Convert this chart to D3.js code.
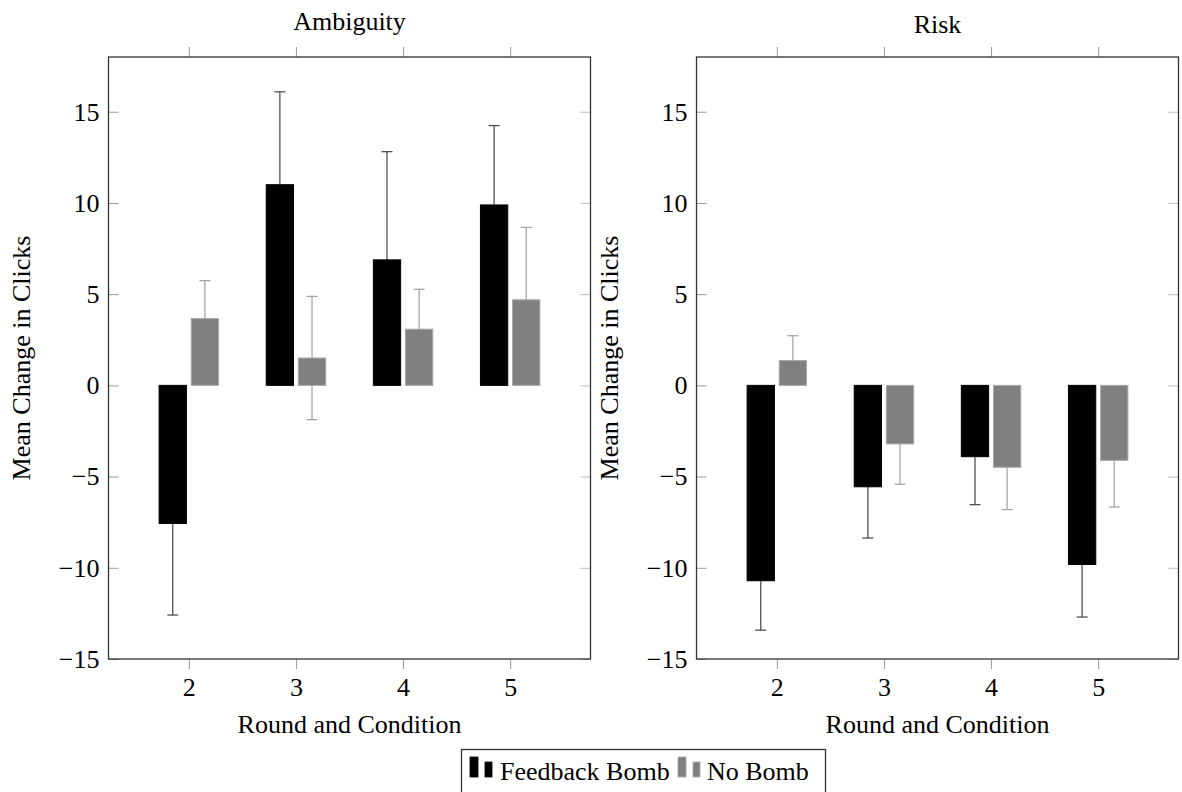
<!DOCTYPE html>
<html>
<head>
<meta charset="utf-8">
<script src="https://cdn.jsdelivr.net/npm/d3@7/dist/d3.min.js"></script>
<style>
  body { margin: 0; background: #fff; }
  text { font-family: "Liberation Serif", "DejaVu Serif", serif; }
</style>
</head>
<body>
<div id="chart"></div>
<script>
// Chart data
var rounds = ["2", "3", "4", "5"];
var seriesNames = ["Feedback Bomb", "No Bomb"];

var ambFeedback = [-7.57, 11.0, 6.88, 9.89];
var ambFeedbackErr = [5.02, 5.09, 5.93, 4.35];
var ambNoBomb = [3.66, 1.50, 3.08, 4.69];
var ambNoBombErr = [2.08, 3.38, 2.19, 3.97];

var riskFeedback = [-10.71, -5.56, -3.91, -9.82];
var riskFeedbackErr = [2.71, 2.81, 2.63, 2.88];
var riskNoBomb = [1.36, -3.21, -4.49, -4.11];
var riskNoBombErr = [1.36, 2.21, 2.32, 2.56];

var yTicks = [-15, -10, -5, 0, 5, 10, 15];

// SVG area
var svgWidth = 1182;
var svgHeight = 792;
var fontSize = "26px";

var svg = d3.select("#chart")
  .append("svg")
  .attr("width", svgWidth)
  .attr("height", svgHeight);

var panels = [
  { title: "Ambiguity", left: 108.5, titleY: 30,
    series: [
      { vals: ambFeedback, errs: ambFeedbackErr, fill: "#000", stroke: "#000", err: "#444", shift: -1 },
      { vals: ambNoBomb, errs: ambNoBombErr, fill: "#808080", stroke: "#a8a8a8", err: "#a0a0a0", shift: 1 }
    ] },
  { title: "Risk", left: 696.5, titleY: 33,
    series: [
      { vals: riskFeedback, errs: riskFeedbackErr, fill: "#000", stroke: "#000", err: "#444", shift: -1 },
      { vals: riskNoBomb, errs: riskNoBombErr, fill: "#808080", stroke: "#a8a8a8", err: "#a0a0a0", shift: 1 }
    ] }
];

var plotW = 482;
var plotTop = 57, plotBottom = 659;

panels.forEach(function(p) {
  var g = svg.append("g");

  var x = d3.scalePoint()
    .domain(rounds)
    .range([p.left, p.left + plotW])
    .padding(0.75);

  var y = d3.scaleLinear()
    .domain([-15, 18])
    .range([plotBottom, plotTop]);

  var step = x.step();
  var barW = step * 0.255;
  var off = step * 0.15;

  // error bars first, bars on top of them
  p.series.forEach(function(s) {
    var eg = g.append("g");
    rounds.forEach(function(r, i) {
      var cx = x(r) + s.shift * off;
      var hi = y(s.vals[i] + s.errs[i]);
      var lo = y(s.vals[i] - s.errs[i]);
      eg.append("line")
        .attr("x1", cx).attr("x2", cx)
        .attr("y1", hi).attr("y2", lo)
        .attr("stroke", s.err).attr("stroke-width", 1.2);
      [hi, lo].forEach(function(yy) {
        eg.append("line")
          .attr("x1", cx - 5.5).attr("x2", cx + 5.5)
          .attr("y1", yy).attr("y2", yy)
          .attr("stroke", s.err).attr("stroke-width", 1.2);
      });
    });
  });

  p.series.forEach(function(s) {
    g.selectAll(null)
      .data(s.vals)
      .enter()
      .append("rect")
      .attr("x", (d, i) => x(rounds[i]) + s.shift * off - barW / 2)
      .attr("y", d => y(Math.max(0, d)))
      .attr("width", barW)
      .attr("height", d => Math.abs(y(d) - y(0)))
      .attr("fill", s.fill)
      .attr("stroke", s.stroke)
      .attr("stroke-width", 1);
  });

  // axes
  var leftAxis = d3.axisLeft(y).tickValues(yTicks).tickSize(-10).tickPadding(9);
  var rightAxis = d3.axisRight(y).tickValues(yTicks).tickSize(-10).tickFormat("");
  var bottomAxis = d3.axisBottom(x).tickSize(10).tickPadding(9);
  var topAxis = d3.axisTop(x).tickSize(10).tickFormat("");

  var la = g.append("g").attr("transform", "translate(" + p.left + ",0)").call(leftAxis);
  var ra = g.append("g").attr("transform", "translate(" + (p.left + plotW) + ",0)").call(rightAxis);
  var ba = g.append("g").attr("transform", "translate(0," + plotBottom + ")").call(bottomAxis);
  var ta = g.append("g").attr("transform", "translate(0," + plotTop + ")").call(topAxis);

  [la, ra, ba, ta].forEach(function(a) {
    a.select(".domain").remove();
    a.selectAll("line").attr("stroke", "#999");
    a.selectAll("text")
      .attr("fill", "#000")
      .style("font-family", "'Liberation Serif', serif")
      .style("font-size", fontSize);
  });
  ra.selectAll("line").attr("stroke", "#bbb");

  // frame
  g.append("rect")
    .attr("x", p.left).attr("y", plotTop)
    .attr("width", plotW).attr("height", plotBottom - plotTop)
    .attr("fill", "none")
    .attr("stroke", "#333")
    .attr("stroke-width", 1.3);

  // titles and labels
  g.append("text")
    .attr("x", p.left + plotW / 2).attr("y", p.titleY)
    .attr("text-anchor", "middle")
    .style("font-size", fontSize)
    .text(p.title);

  g.append("text")
    .attr("x", p.left + plotW / 2).attr("y", 733)
    .attr("text-anchor", "middle")
    .style("font-size", fontSize)
    .text("Round and Condition");

  g.append("text")
    .attr("transform", "translate(" + (p.left - 78.5) + "," + ((plotTop + plotBottom) / 2) + ") rotate(-90)")
    .attr("text-anchor", "middle")
    .style("font-size", fontSize)
    .text("Mean Change in Clicks");
});

// legend
var legend = svg.append("g");
legend.append("rect")
  .attr("x", 461.5).attr("y", 749.5)
  .attr("width", 364).attr("height", 50)
  .attr("fill", "#fff")
  .attr("stroke", "#333")
  .attr("stroke-width", 1.3);

var legendItems = [
  { name: seriesNames[0], fill: "#000", stroke: "#000", x: 470, textX: 500 },
  { name: seriesNames[1], fill: "#808080", stroke: "#a8a8a8", x: 678, textX: 707 }
];

legendItems.forEach(function(it) {
  legend.append("rect")
    .attr("x", it.x).attr("y", 757)
    .attr("width", 8).attr("height", 20)
    .attr("fill", it.fill).attr("stroke", it.stroke).attr("stroke-width", 0.8);
  legend.append("rect")
    .attr("x", it.x + 15).attr("y", 762)
    .attr("width", 7).attr("height", 15)
    .attr("fill", it.fill).attr("stroke", it.stroke).attr("stroke-width", 0.8);
  legend.append("text")
    .attr("x", it.textX).attr("y", 780)
    .style("font-size", fontSize)
    .text(it.name);
});
</script>
</body>
</html>
